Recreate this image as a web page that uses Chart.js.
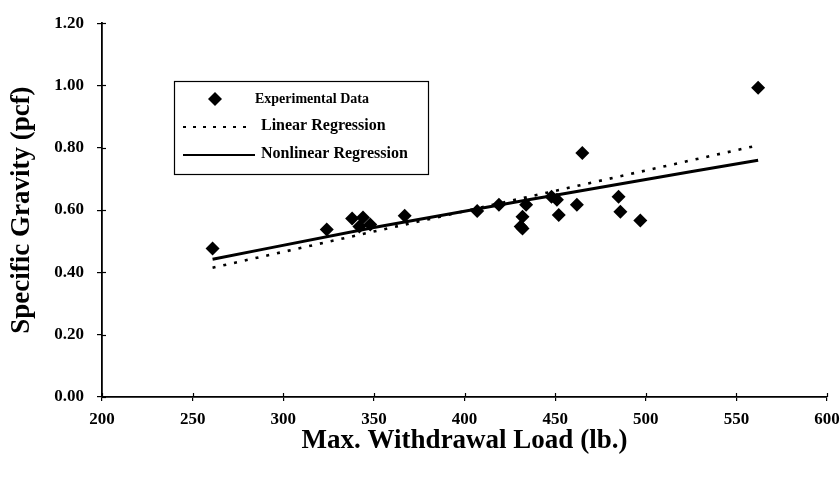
<!DOCTYPE html>
<html><head><meta charset="utf-8">
<script src="https://cdn.jsdelivr.net/npm/chart.js@4/dist/chart.umd.min.js"></script>
<style>html,body{margin:0;padding:0;background:#fff}#wrap{width:840px;height:477px}</style>
</head><body><div id="wrap"><canvas id="c"></canvas></div>
<script>
// Experimental data (Max. Withdrawal Load lb., Specific Gravity)
const loadX = [261, 324, 338, 342, 344, 348, 367, 407, 419, 431, 432, 432, 434, 448, 451, 452, 462, 465, 485, 486, 497, 562];
const gravityY = [0.477, 0.538, 0.573, 0.547, 0.576, 0.554, 0.582, 0.597, 0.617, 0.547, 0.541, 0.579, 0.617, 0.643, 0.633, 0.584, 0.617, 0.783, 0.643, 0.595, 0.567, 0.993];
// Regression lines
const linX = [261, 562];
const linY = [0.415, 0.808];
const nonlinX = [261, 350, 450, 562];
const nonlinY = [0.442, 0.544, 0.648, 0.760];
const xTicks = [200, 250, 300, 350, 400, 450, 500, 550, 600];
const yTicks = [0.0, 0.2, 0.4, 0.6, 0.8, 1.0, 1.2];
const seriesNames = ['Experimental Data', 'Linear Regression', 'Nonlinear Regression'];

const FONT = '"Liberation Serif","Times New Roman",serif';

const pts = (xs, ys) => xs.map((x, i) => ({x, y: ys[i]}));

const innerTicks = {
  id: 'innerTicks',
  afterDraw(chart) {
    const ctx = chart.ctx, xs = chart.scales.x, ys = chart.scales.y, ca = chart.chartArea;
    ctx.save();
    ctx.strokeStyle = '#000'; ctx.lineWidth = 1.2;
    xs.ticks.forEach((t, i) => { const p = Math.round(xs.getPixelForTick(i)) + 0.5; ctx.beginPath(); ctx.moveTo(p, ca.bottom); ctx.lineTo(p, ca.bottom - 4); ctx.stroke(); });
    ys.ticks.forEach((t, i) => { const p = Math.round(ys.getPixelForTick(i)) + 0.5; ctx.beginPath(); ctx.moveTo(ca.left, p); ctx.lineTo(ca.left + 4, p); ctx.stroke(); });
    ctx.restore();
  }
};

const boxLegend = {
  id: 'boxLegend',
  afterDraw(chart) {
    const ctx = chart.ctx;
    const ds = chart.data.datasets;
    ctx.save();
    ctx.strokeStyle = '#000'; ctx.lineWidth = 1.2;
    ctx.strokeRect(174.5, 81.5, 254, 93);
    ctx.fillStyle = '#000'; ctx.textBaseline = 'middle';
    // entry 1: diamond
    ctx.beginPath();
    ctx.moveTo(215, 92); ctx.lineTo(222, 99); ctx.lineTo(215, 106); ctx.lineTo(208, 99); ctx.closePath(); ctx.fill();
    ctx.font = 'bold 14px ' + FONT;
    ctx.fillText(ds[0].label, 255, 99);
    ctx.font = 'bold 16px ' + FONT;
    // entry 2: dotted
    ctx.lineWidth = 2.2; ctx.setLineDash([3, 7]);
    ctx.beginPath(); ctx.moveTo(183, 127); ctx.lineTo(253, 127); ctx.stroke();
    ctx.setLineDash([]);
    ctx.fillText(ds[1].label, 261, 126);
    // entry 3: solid
    ctx.lineWidth = 2;
    ctx.beginPath(); ctx.moveTo(183, 155); ctx.lineTo(255, 155); ctx.stroke();
    ctx.fillText(ds[2].label, 261, 154);
    ctx.restore();
  }
};

new Chart(document.getElementById('c'), {
  type: 'scatter',
  data: {
    datasets: [
      { label: seriesNames[0], data: pts(loadX, gravityY), pointStyle: 'rectRot', pointRadius: 7, backgroundColor: '#000', borderColor: '#000', borderWidth: 0, showLine: false, order: 0 },
      { label: seriesNames[1], data: pts(linX, linY), showLine: true, borderColor: '#000', borderWidth: 2.6, borderDash: [3, 8], pointRadius: 0, fill: false, order: 2 },
      { label: seriesNames[2], data: pts(nonlinX, nonlinY), showLine: true, borderColor: '#000', borderWidth: 3, pointRadius: 0, fill: false, tension: 0.4, cubicInterpolationMode: 'monotone', order: 1 }
    ]
  },
  options: {
    responsive: true, maintainAspectRatio: false, animation: false,
    layout: { padding: { top: 20, right: 13, left: 0, bottom: 0 } },
    plugins: { legend: { display: false }, tooltip: { enabled: false } },
    scales: {
      x: {
        type: 'linear', min: 200, max: 600,
        afterBuildTicks: s => { s.ticks = xTicks.map(v => ({value: v})); },
        afterFit: s => { s.height = 80; s.paddingRight = 13; s.paddingLeft = 0; },
        border: { color: '#000', width: 1.8 },
        grid: { display: true, drawOnChartArea: false, color: '#000', tickLength: 4, lineWidth: 1.2 },
        ticks: { color: '#000', font: { family: FONT, size: 17, weight: 'bold' }, padding: 8, maxRotation: 0 },
        title: { display: true, text: 'Max. Withdrawal Load (lb.)', color: '#000', font: { family: FONT, size: 27, weight: 'bold' }, padding: { top: 0, bottom: 20 } }
      },
      y: {
        type: 'linear', min: 0, max: 1.2,
        afterBuildTicks: s => { s.ticks = yTicks.map(v => ({value: v})); },
        afterFit: s => { s.width = 102; },
        border: { color: '#000', width: 1.8 },
        grid: { display: true, drawOnChartArea: false, color: '#000', tickLength: 5, lineWidth: 1.2 },
        ticks: { color: '#000', font: { family: FONT, size: 17, weight: 'bold' }, padding: 13, callback: v => v.toFixed(2) },
        title: { display: true, text: 'Specific Gravity (pcf)', color: '#000', font: { family: FONT, size: 27, weight: 'bold' }, padding: { top: 6, bottom: 0 } }
      }
    }
  },
  plugins: [innerTicks, boxLegend]
});
</script></body></html>
